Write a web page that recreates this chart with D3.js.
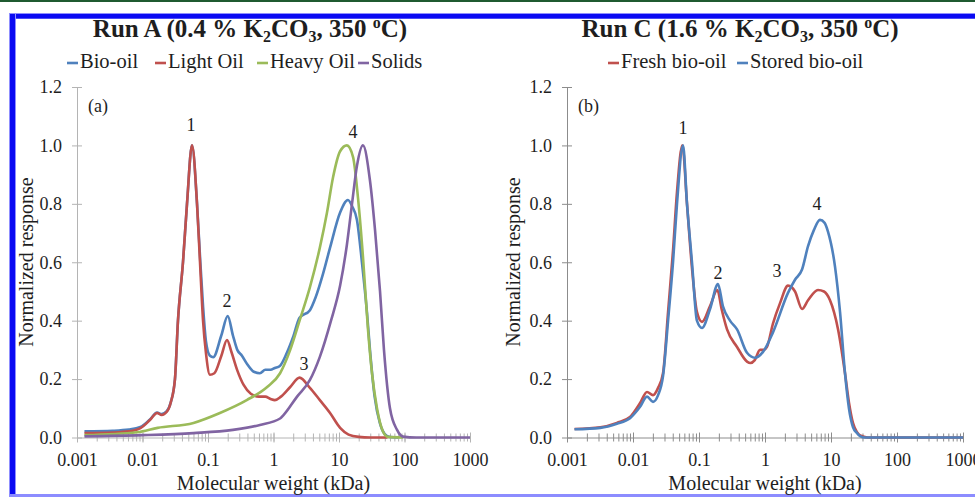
<!DOCTYPE html>
<meta charset="utf-8">
<script src="https://d3js.org/d3.v7.min.js"></script>
<style>
  body { margin: 0; background: #fff; }
  text { font-family: "Liberation Serif", "Times New Roman", serif; fill: #1e1e1e; }
</style>
<div id="chart"></div>
<script>

// ---- data: [molecular weight (kDa), normalized response] ----

// Run A
var bioOilA = [[0.0013,0.021],[0.0035,0.023],[0.0062,0.027],[0.0093,0.036],[0.013,0.062],[0.0167,0.085],
  [0.0196,0.08],[0.0235,0.09],[0.027,0.12],[0.0313,0.2],[0.0348,0.4],[0.0415,0.6],[0.0478,0.8],[0.057,1.0],
  [0.068,0.8],[0.0755,0.62],[0.084,0.45],[0.093,0.33],[0.107,0.28],[0.12,0.275],[0.16,0.35],[0.2,0.416],
  [0.24,0.35],[0.28,0.3],[0.33,0.28],[0.4,0.25],[0.5,0.225],[0.62,0.22],[0.75,0.232],[0.9,0.232],[1.05,0.238],
  [1.25,0.245],[1.6,0.29],[2.0,0.345],[2.5,0.41],[3.6,0.436],[4.4,0.48],[5.7,0.56],[7.3,0.65],[10.4,0.77],
  [13.7,0.813],[16,0.79],[18.8,0.745],[22.4,0.6],[26.8,0.425],[29.7,0.3],[35,0.14],[42,0.05],[50,0.012],
  [60,0.002],[80,0]];

var lightOilA = [[0.0013,0.015],[0.0035,0.017],[0.0062,0.021],[0.0093,0.032],[0.013,0.06],[0.0167,0.084],
  [0.0196,0.077],[0.0235,0.088],[0.027,0.12],[0.0313,0.2],[0.0348,0.4],[0.0415,0.6],[0.0478,0.8],[0.057,1.0],
  [0.068,0.8],[0.0755,0.6],[0.084,0.4],[0.093,0.29],[0.107,0.215],[0.125,0.22],[0.16,0.28],[0.195,0.334],
  [0.23,0.29],[0.28,0.23],[0.35,0.18],[0.45,0.15],[0.6,0.14],[0.75,0.14],[0.9,0.132],[1.05,0.128],[1.3,0.14],
  [1.8,0.173],[2.5,0.205],[3.6,0.17],[5.1,0.128],[7.3,0.084],[10.4,0.033],[14,0.01],[20,0.002],[30,0],[55,0]];

var heavyOilA = [[0.0013,0.008],[0.0083,0.018],[0.017,0.033],[0.06,0.05],[0.152,0.084],[0.39,0.128],
  [0.8,0.173],[1.26,0.22],[1.8,0.3],[2.5,0.4],[3.6,0.515],[5.1,0.65],[6.56,0.77],[8.1,0.89],[10.4,0.98],
  [13.2,1.0],[16.4,0.96],[19.5,0.82],[23.2,0.62],[27.7,0.37],[31.9,0.22],[38,0.1],[47,0.02],[56,0.002],[95,0]];

var solidsA = [[0.0013,0.004],[0.01,0.008],[0.06,0.015],[0.24,0.026],[0.62,0.043],[1.26,0.065],[1.4,0.075],
  [2.29,0.14],[3.6,0.197],[5.1,0.276],[7.55,0.4],[10.4,0.52],[13.2,0.66],[15.8,0.8],[18.8,0.93],[23.2,1.0],
  [29.7,0.88],[35.5,0.71],[42.3,0.5],[48.6,0.3],[60,0.1],[77,0.026],[95,0.003],[150,0],[1000,0]];

// Run C
var freshC = [[0.0013,0.029],[0.0032,0.035],[0.0057,0.05],[0.009,0.07],[0.0128,0.118],[0.0163,0.156],
  [0.0201,0.145],[0.024,0.17],[0.0285,0.22],[0.034,0.43],[0.0404,0.64],[0.0464,0.84],[0.056,1.0],[0.0658,0.8],
  [0.0783,0.58],[0.093,0.43],[0.111,0.396],[0.147,0.45],[0.19,0.505],[0.22,0.44],[0.266,0.37],[0.377,0.31],
  [0.534,0.26],[0.6,0.255],[0.7,0.265],[0.84,0.3],[0.95,0.3],[1.07,0.31],[1.32,0.39],[1.69,0.46],[2.23,0.52],
  [2.85,0.5],[3.64,0.44],[4.49,0.47],[6.35,0.505],[7.83,0.5],[9.66,0.47],[12.8,0.37],[16.3,0.22],[18.7,0.12],
  [21.5,0.05],[24.8,0.018],[27.5,0.007],[32.7,0.002],[40,0],[1000,0]];

var storedC = [[0.0013,0.028],[0.0032,0.033],[0.0057,0.047],[0.009,0.066],[0.0128,0.105],[0.0163,0.14],
  [0.0201,0.122],[0.024,0.145],[0.0285,0.21],[0.034,0.4],[0.0404,0.6],[0.0464,0.8],[0.0573,1.0],[0.0658,0.8],
  [0.0783,0.6],[0.093,0.4],[0.111,0.375],[0.147,0.44],[0.194,0.525],[0.23,0.45],[0.295,0.4],[0.377,0.37],
  [0.534,0.29],[0.705,0.273],[0.933,0.293],[1.32,0.36],[2.23,0.495],[2.85,0.54],[3.64,0.575],[4.49,0.655],
  [5.5,0.71],[6.8,0.745],[8.0,0.735],[9.0,0.705],[11.5,0.585],[13.7,0.43],[16.3,0.22],[18.7,0.1],[21.5,0.036],
  [24.8,0.015],[27.5,0.005],[32.7,0],[1000,0]];

// axis ticks
var xMajorTicks = [0.001, 0.01, 0.1, 1, 10, 100, 1000];
var yTicks = [0, 0.2, 0.4, 0.6, 0.8, 1.0, 1.2];

// peak number labels [text, kDa, response]
var peakLabelsA = [["1",0.055,1.048],["2",0.195,0.448],["3",2.92,0.232],["4",16.4,1.024]];
var peakLabelsC = [["1",0.0573,1.038],["2",0.194,0.544],["3",1.52,0.55],["4",6.14,0.78]];

var namesA = ["Bio-oil", "Light Oil", "Heavy Oil", "Solids"];
var namesC = ["Fresh bio-oil", "Stored bio-oil"];

var blue = "#4f81bd", red = "#c0504d", green = "#9bbb59", purple = "#8064a2";

var W = 975, H = 497;
var svg = d3.select("#chart").append("svg")
  .attr("width", W).attr("height", H);

// frame around the figure
svg.append("rect").attr("x", 0).attr("y", 0).attr("width", W).attr("height", 2).attr("fill", "#1f5a30");
svg.append("rect").attr("x", 9).attr("y", 13).attr("width", W - 9).attr("height", 6).attr("fill", "#8f8fff");
svg.append("rect").attr("x", 9).attr("y", 14).attr("width", W - 9).attr("height", 4.5).attr("fill", "#0a0af2");
svg.append("rect").attr("x", 9).attr("y", 13).attr("width", 7).attr("height", H - 13).attr("fill", "#8f8fff");
svg.append("rect").attr("x", 10).attr("y", 14).attr("width", 5).attr("height", H - 14).attr("fill", "#0a0af2");
svg.append("rect").attr("x", 9).attr("y", 494).attr("width", W - 9).attr("height", 3).attr("fill", "#8c8cff");

function drawPanel(opt) {
  var x = d3.scaleLog().domain([0.001, 1000]).range([opt.x0, opt.x1]);
  var y = d3.scaleLinear().domain([0, 1.2]).range([437.5, 87]);
  var g = svg.append("g");

  // x axis with crossing minor ticks
  var xa = g.append("g")
    .attr("transform", "translate(0,437.5)")
    .call(d3.axisBottom(x).tickValues(x.ticks()).tickSize(4).tickSizeOuter(0).tickFormat(""));
  xa.selectAll(".tick line").attr("y1", -4).attr("stroke", opt.axisColor);
  xa.select(".domain").attr("stroke", opt.axisColor);

  var xl = g.append("g")
    .attr("transform", "translate(0,437.5)")
    .call(d3.axisBottom(x).tickValues(xMajorTicks).tickSize(5).tickSizeOuter(0).tickPadding(11)
      .tickFormat(function(d) { return String(d); }));
  xl.select(".domain").remove();
  xl.selectAll(".tick line").attr("y1", -5).attr("stroke", opt.axisColor);
  xl.selectAll("text").attr("font-size", 18).attr("font-family", "Liberation Serif").attr("fill", "#222");

  // y axis
  var ya = g.append("g")
    .attr("transform", "translate(" + opt.x0 + ",0)")
    .call(d3.axisLeft(y).tickValues(yTicks).tickSize(5).tickSizeOuter(0).tickPadding(10)
      .tickFormat(d3.format(".1f")));
  ya.select(".domain").attr("stroke", opt.axisColor);
  ya.selectAll(".tick line").attr("x1", 5).attr("stroke", opt.axisColor);
  ya.selectAll("text").attr("font-size", 18).attr("font-family", "Liberation Serif").attr("fill", "#222");

  // curves
  var line = d3.line()
    .x(function(d) { return x(d[0]); })
    .y(function(d) { return y(d[1]); })
    .curve(d3.curveMonotoneX);

  opt.series.forEach(function(s) {
    g.append("path")
      .datum(s.data)
      .attr("fill", "none")
      .attr("stroke", s.color)
      .attr("stroke-width", 2.6)
      .attr("stroke-linejoin", "round")
      .attr("d", line);
  });

  // peak numbers
  g.selectAll(".peak")
    .data(opt.peaks)
    .enter().append("text")
      .attr("x", function(d) { return x(d[1]); })
      .attr("y", function(d) { return y(d[2]); })
      .attr("text-anchor", "middle")
      .attr("font-size", 18)
      .text(function(d) { return d[0]; });

  // panel letter
  g.append("text")
    .attr("x", opt.x0 + 11).attr("y", 112)
    .attr("font-size", 18)
    .text(opt.letter);

  // axis titles
  g.append("text")
    .attr("x", (opt.x0 + opt.x1) / 2).attr("y", 490)
    .attr("text-anchor", "middle")
    .attr("font-size", 20)
    .text("Molecular weight (kDa)");

  g.append("text")
    .attr("transform", "translate(" + opt.yTitleX + ",262) rotate(-90)")
    .attr("text-anchor", "middle")
    .attr("font-size", 20)
    .text("Normalized response");

  // title with chemical formula
  var t = g.append("text")
    .attr("x", opt.titleX).attr("y", 37)
    .attr("text-anchor", "middle")
    .attr("font-size", 25)
    .attr("font-weight", "bold");
  t.append("tspan").text(opt.titleStart + " K");
  t.append("tspan").attr("font-size", 16).attr("dy", 5).text("2");
  t.append("tspan").attr("dy", -5).text("CO");
  t.append("tspan").attr("font-size", 16).attr("dy", 5).text("3");
  t.append("tspan").attr("dy", -5).text(", 350 ");
  t.append("tspan").attr("font-size", 16).attr("dy", -9).text("o");
  t.append("tspan").attr("dy", 9).text("C)");

  // legend
  opt.series.forEach(function(s, i) {
    var lx = opt.legendX[i];
    g.append("line")
      .attr("x1", lx).attr("x2", lx + 11)
      .attr("y1", 63).attr("y2", 63)
      .attr("stroke", s.color).attr("stroke-width", 2.6);
    g.append("text")
      .attr("x", lx + 13).attr("y", 68)
      .attr("font-size", 20.5)
      .text(s.name);
  });
}

drawPanel({
  x0: 77, x1: 470,
  axisColor: "#b4b4b4",
  yTitleX: 33,
  titleX: 250,
  titleStart: "Run A (0.4 %",
  letter: "(a)",
  peaks: peakLabelsA,
  legendX: [67, 155, 257, 358],
  series: [
    {name: namesA[0], color: blue, data: bioOilA},
    {name: namesA[1], color: red, data: lightOilA},
    {name: namesA[2], color: green, data: heavyOilA},
    {name: namesA[3], color: purple, data: solidsA}
  ]
});

drawPanel({
  x0: 567, x1: 963,
  axisColor: "#8c8c8c",
  yTitleX: 520,
  titleX: 740,
  titleStart: "Run C (1.6 %",
  letter: "(b)",
  peaks: peakLabelsC,
  legendX: [608, 737],
  series: [
    {name: namesC[0], color: red, data: freshC},
    {name: namesC[1], color: blue, data: storedC}
  ]
});

</script>
